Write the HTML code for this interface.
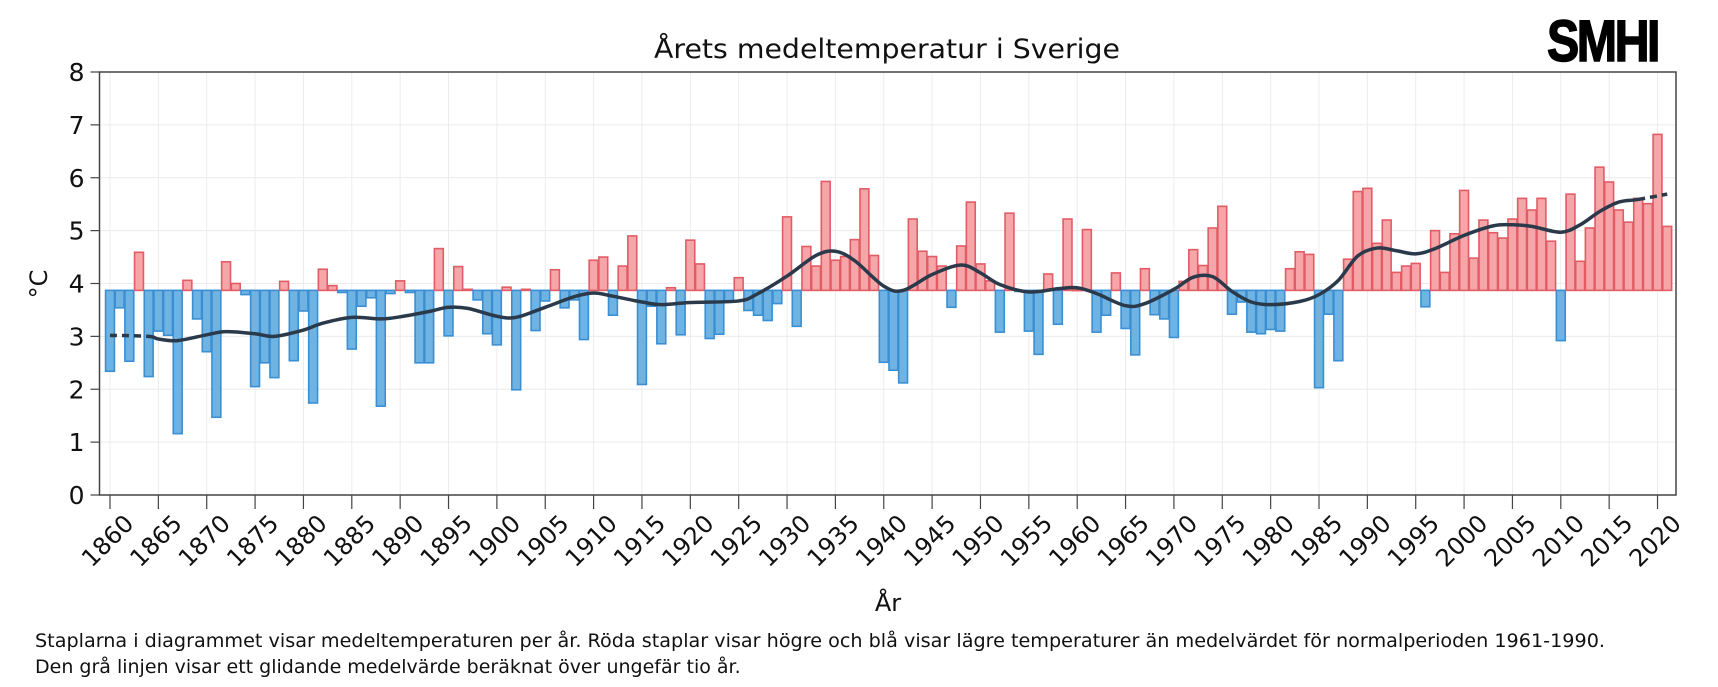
<!DOCTYPE html>
<html><head><meta charset="utf-8">
<style>
html,body{margin:0;padding:0;background:#fff;}
svg{display:block;font-family:"DejaVu Sans","Liberation Sans",sans-serif;}
</style></head>
<body>
<svg id="chart" width="1718" height="687" viewBox="0 0 1718 687" xmlns="http://www.w3.org/2000/svg">
<text x="654" y="58" font-size="27" textLength="466" lengthAdjust="spacingAndGlyphs" fill="#111">Årets medeltemperatur i Sverige</text>
<text x="1547" y="61" font-size="58" font-weight="bold" font-family="Liberation Sans Narrow, Liberation Sans, sans-serif" textLength="111" lengthAdjust="spacingAndGlyphs" fill="#000" stroke="#000" stroke-width="1.5" letter-spacing="-3">SMHI</text>
<g id="grid"></g>
<g id="bars"></g>
<g id="line"></g>
<rect x="99.5" y="72" width="1576.5" height="423" fill="none" stroke="#444" stroke-width="1.5"/>
<g id="axes"></g>
<text x="0" y="0" font-size="24" fill="#111" text-anchor="middle" transform="translate(47,284) rotate(-90)">°C</text>
<text x="888" y="611" font-size="24" fill="#111" text-anchor="middle">År</text>
<text x="35" y="647" font-size="19" textLength="1570" lengthAdjust="spacingAndGlyphs" fill="#111">Staplarna i diagrammet visar medeltemperaturen per år. Röda staplar visar högre och blå visar lägre temperaturer än medelvärdet för normalperioden 1961-1990.</text>
<text x="35" y="673" font-size="19" fill="#111">Den grå linjen visar ett glidande medelvärde beräknat över ungefär tio år.</text>
</svg>
<script>
const startYear = 1860;
const baseline = 3.87;
const temps = [
2.34,3.54,2.53,4.59,2.24,3.1,3.02,1.16,4.06,3.33,
2.71,1.47,4.41,4.0,3.79,2.05,2.5,2.22,4.04,2.54,
3.48,1.74,4.27,3.96,3.83,2.76,3.57,3.73,1.68,3.81,
4.05,3.83,2.5,2.5,4.66,3.01,4.32,3.89,3.69,3.05,
2.84,3.93,1.99,3.89,3.11,3.67,4.26,3.54,3.69,2.94,
4.44,4.5,3.4,4.33,4.9,2.09,3.57,2.86,3.92,3.03,
4.82,4.37,2.96,3.04,3.67,4.11,3.49,3.4,3.3,3.62,
5.26,3.19,4.7,4.33,5.93,4.44,4.51,4.83,5.79,4.53,
2.51,2.36,2.12,5.22,4.61,4.51,4.33,3.55,4.71,5.54,
4.37,4.05,3.08,5.33,3.85,3.1,2.66,4.18,3.23,5.22,
3.88,5.02,3.08,3.4,4.2,3.15,2.65,4.28,3.41,3.33,
2.98,4.04,4.64,4.34,5.05,5.46,3.42,3.65,3.08,3.05,
3.13,3.1,4.28,4.6,4.55,2.03,3.42,2.54,4.46,5.74,
5.8,4.76,5.2,4.21,4.33,4.38,3.56,5.0,4.21,4.94,
5.76,4.48,5.2,4.96,4.86,5.22,5.61,5.39,5.61,4.8,
2.92,5.69,4.42,5.05,6.2,5.92,5.39,5.16,5.61,5.51,
6.82,5.08];
const smoothYears = [1860,1864,1865,1867,1870,1872,1875,1877,1880,1882,1885,1888,1890,1893,1895,1897,1900,1902,1905,1908,1910,1912,1915,1917,1920,1925,1927,1930,1933,1935,1937,1940,1942,1945,1948,1950,1952,1955,1958,1960,1962,1965,1967,1970,1972,1974,1976,1978,1980,1983,1985,1987,1989,1991,1993,1995,1997,2000,2003,2005,2007,2010,2012,2014,2016,2018,2021];
const smoothValues = [3.02,3.0,2.95,2.92,3.03,3.09,3.05,3.0,3.12,3.25,3.36,3.33,3.37,3.47,3.55,3.53,3.38,3.36,3.55,3.75,3.82,3.76,3.65,3.6,3.64,3.67,3.81,4.14,4.53,4.61,4.43,3.95,3.87,4.17,4.35,4.2,3.98,3.84,3.9,3.92,3.81,3.58,3.62,3.89,4.12,4.13,3.85,3.65,3.6,3.66,3.79,4.06,4.52,4.67,4.62,4.56,4.66,4.91,5.09,5.11,5.08,4.97,5.11,5.36,5.54,5.59,5.69];
const yTicks = [0,1,2,3,4,5,6,7,8];
const xTicks = [1860,1865,1870,1875,1880,1885,1890,1895,1900,1905,1910,1915,1920,1925,1930,1935,1940,1945,1950,1955,1960,1965,1970,1975,1980,1985,1990,1995,2000,2005,2010,2015,2020];
const dashedBefore = 1864, dashedAfter = 2018;

const NS="http://www.w3.org/2000/svg";
const L=99.5,R=1676,T=72,B=495;
const yr0=1860,yrStep=9.672,x0=110;
function xs(y){return x0+(y-yr0)*yrStep;}
function ys(v){return B-(v/8)*(B-T);}
function mk(tag,attrs,parent){const e=document.createElementNS(NS,tag);for(const k in attrs)e.setAttribute(k,attrs[k]);parent.appendChild(e);return e;}
const grid=document.getElementById('grid'),bars=document.getElementById('bars'),line=document.getElementById('line'),axes=document.getElementById('axes');
yTicks.forEach(v=>{
  const g=mk('line',{x1:L,x2:R,y1:ys(v),y2:ys(v),stroke:'#ececec','stroke-width':1},grid);
  
  
  const t=mk('line',{x1:L-9,x2:L,y1:ys(v),y2:ys(v),stroke:'#444','stroke-width':1.2},axes);
  
  
  const lb=mk('text',{x:L-15,y:ys(v)+9,'font-size':25,'text-anchor':'end',fill:'#111'},axes);
  lb.textContent=v;
  
  
});
xTicks.forEach(y=>{
  const g=mk('line',{x1:xs(y),x2:xs(y),y1:T,y2:B,stroke:'#ececec','stroke-width':1},grid);
  
  
  const t=mk('line',{x1:xs(y),x2:xs(y),y1:B,y2:B+14,stroke:'#444','stroke-width':1.2},axes);
  
  
  const lb=mk('text',{x:0,y:0,'font-size':24,'text-anchor':'end',fill:'#111',transform:`translate(${xs(y)+25},${B+30}) rotate(-45)`},axes);
  lb.textContent=y;
  
  
});
const bw=yrStep-0.8;
temps.forEach((v,i)=>{
  const yr=startYear+i,cx=xs(yr);
  const warm=v>=baseline;
  const y1=ys(Math.max(v,baseline)),y2=ys(Math.min(v,baseline));
  const r=mk('rect',{x:cx-bw/2,y:y1,width:bw,height:Math.max(y2-y1,0.8),fill:warm?'#f6a5a8':'#6fb3e3',stroke:warm?'#e25c66':'#3a8fd3','stroke-width':1.6},bars);
  
  
});
const pts=smoothYears.map((y,i)=>[xs(y),ys(smoothValues[i]),y]);
function seg(a,b){let d='M'+pts[a][0]+','+pts[a][1];
  for(let i=a;i<b;i++){const p0=pts[Math.max(i-1,0)],p1=pts[i],p2=pts[i+1],p3=pts[Math.min(i+2,pts.length-1)];
    const c1x=p1[0]+(p2[0]-p0[0])/6,c1y=p1[1]+(p2[1]-p0[1])/6,c2x=p2[0]-(p3[0]-p1[0])/6,c2y=p2[1]-(p3[1]-p1[1])/6;
    d+=` C${c1x},${c1y} ${c2x},${c2y} ${p2[0]},${p2[1]}`;}
  return d;}
const iA=smoothYears.indexOf(dashedBefore),iB=smoothYears.indexOf(dashedAfter),n=pts.length-1;
const p1=mk('path',{d:seg(0,iA),fill:'none',stroke:'#2b3a4b','stroke-width':3.5,'stroke-dasharray':'7,5'},line);


const p2=mk('path',{d:seg(iA,iB),fill:'none',stroke:'#2b3a4b','stroke-width':3.5,'stroke-linecap':'round'},line);


const p3=mk('path',{d:seg(iB,n),fill:'none',stroke:'#2b3a4b','stroke-width':3.5,'stroke-dasharray':'7,5'},line);


</script>
</body></html>
